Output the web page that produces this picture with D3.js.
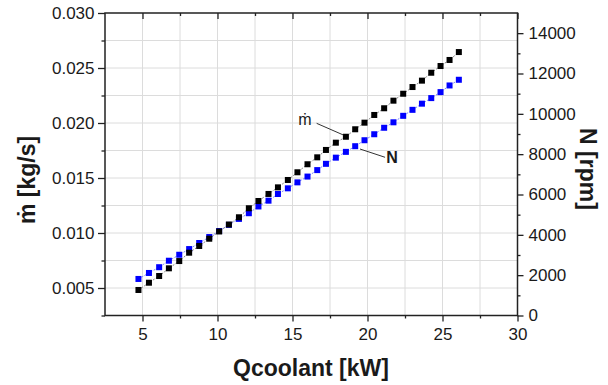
<!DOCTYPE html>
<html>
<head>
<meta charset="utf-8">
<script src="https://cdn.jsdelivr.net/npm/d3@7"></script>
<style>
  html, body { margin: 0; padding: 0; background: #fff; }
  svg { display: block; font-family: "Liberation Sans", Arial, sans-serif; }
</style>
</head>
<body>
<svg id="chart" width="608" height="385"></svg>
<script>
// Qcoolant [kW]
const qCoolant = [4.73, 5.43, 6.11, 6.76, 7.45, 8.11, 8.78, 9.45, 10.11, 10.76, 11.43, 12.09, 12.73, 13.40, 14.03, 14.69, 15.33,
  16.00, 16.65, 17.23, 17.89, 18.56, 19.18, 19.80, 20.45, 21.11, 21.73, 22.38, 23.00, 23.63, 24.25, 24.87, 25.47, 26.09];
// mass flow [kg/s], left axis
const massFlow = [0.00482, 0.00548, 0.00609, 0.00679, 0.00745, 0.00821, 0.00882, 0.00948, 0.01014, 0.01077, 0.01143, 0.01225,
  0.01291, 0.01355, 0.01415, 0.01482, 0.01552, 0.01625, 0.01688, 0.01755, 0.01821, 0.01875, 0.01943, 0.02003, 0.02073, 0.02134,
  0.02203, 0.02266, 0.02327, 0.02385, 0.02457, 0.02518, 0.02573, 0.02645];
// speed [rpm], right axis
const speed = [1812, 2109, 2395, 2716, 3012, 3294, 3595, 3891, 4188, 4494, 4790, 5072, 5407, 5694, 6025, 6306, 6602, 6889,
  7210, 7521, 7827, 8114, 8395, 8691, 8988, 9309, 9580, 9901, 10198, 10504, 10780, 11077, 11407, 11689];

const xTicks = [5, 10, 15, 20, 25, 30];
const xMinor = [7.5, 12.5, 17.5, 22.5, 27.5];
const leftTicks = [0.005, 0.010, 0.015, 0.020, 0.025, 0.030];
const leftMinor = [0.0025, 0.0075, 0.0125, 0.0175, 0.0225, 0.0275];
const rightTicks = [0, 2000, 4000, 6000, 8000, 10000, 12000, 14000];
const rightMinor = [1000, 3000, 5000, 7000, 9000, 11000, 13000];
const xGrid = [5, 7.5, 10, 12.5, 15, 17.5, 20, 22.5, 25, 27.5];
const yGrid = [0.005, 0.0075, 0.010, 0.0125, 0.015, 0.0175, 0.020, 0.0225, 0.025, 0.0275];

// labels pointing at each series (data units)
const mdotNote = { text: "ṁ", x: 15.83, y: 0.01982, from: [16.61, 0.01997], to: [18.39, 0.01891] };
const speedNote = { text: "N", x: 21.63, y: 7547, from: [21.17, 7845], to: [19.5, 8256] };

const svg = d3.select("#chart");
const pL = 105, pR = 517.5, pT = 13, pB = 315.5;

const x = d3.scaleLinear().domain([2.5, 30]).range([pL, pR]);
const yL = d3.scaleLinear().domain([0.0025, 0.030]).range([pB, pT]);
const yR = d3.scaleLinear().domain([0, 15000]).range([pB, pT]);

const axisColor = "#222";
const textColor = "#1a1a1a";

// grid
const grid = svg.append("g");
grid.selectAll(".gx").data(xGrid).enter().append("line")
  .attr("x1", d => x(d)).attr("x2", d => x(d))
  .attr("y1", pT).attr("y2", pB)
  .style("stroke", "#dcdcdc").style("stroke-width", 1);
grid.selectAll(".gy").data(yGrid).enter().append("line")
  .attr("x1", pL).attr("x2", pR)
  .attr("y1", d => yL(d)).attr("y2", d => yL(d))
  .style("stroke", "#dcdcdc").style("stroke-width", 1);

function styleAxis(g, fontSize) {
  g.select(".domain").remove();
  g.selectAll("line").style("stroke", axisColor).style("stroke-width", 1.3);
  g.selectAll("text").style("font-size", fontSize + "px").style("fill", textColor).attr("font-family", null);
}

// bottom axis
svg.append("g").attr("transform", `translate(0,${pB})`)
  .call(d3.axisBottom(x).tickValues(xTicks).tickFormat(d3.format("d")).tickSizeInner(6).tickSizeOuter(0).tickPadding(6.5))
  .call(g => styleAxis(g, 17));
svg.append("g").attr("transform", `translate(0,${pB})`)
  .call(d3.axisBottom(x).tickValues(xMinor).tickFormat("").tickSizeInner(3).tickSizeOuter(0))
  .call(g => styleAxis(g, 17));

// top border ticks (inward)
svg.append("g").attr("transform", `translate(0,${pT})`)
  .call(d3.axisBottom(x).tickValues(xTicks).tickFormat("").tickSizeInner(6).tickSizeOuter(0))
  .call(g => styleAxis(g, 17));
svg.append("g").attr("transform", `translate(0,${pT})`)
  .call(d3.axisBottom(x).tickValues(xMinor).tickFormat("").tickSizeInner(3).tickSizeOuter(0))
  .call(g => styleAxis(g, 17));

// left axis
svg.append("g").attr("transform", `translate(${pL},0)`)
  .call(d3.axisLeft(yL).tickValues(leftTicks).tickFormat(d3.format(".3f")).tickSizeInner(7).tickSizeOuter(0).tickPadding(3.5))
  .call(g => styleAxis(g, 17));
svg.append("g").attr("transform", `translate(${pL},0)`)
  .call(d3.axisLeft(yL).tickValues(leftMinor).tickFormat("").tickSizeInner(3.5).tickSizeOuter(0))
  .call(g => styleAxis(g, 17));

// right axis
svg.append("g").attr("transform", `translate(${pR},0)`)
  .call(d3.axisRight(yR).tickValues(rightTicks).tickFormat(d3.format("d")).tickSizeInner(6).tickSizeOuter(0).tickPadding(5))
  .call(g => styleAxis(g, 17));
svg.append("g").attr("transform", `translate(${pR},0)`)
  .call(d3.axisRight(yR).tickValues(rightMinor).tickFormat("").tickSizeInner(3).tickSizeOuter(0))
  .call(g => styleAxis(g, 17));

// frame
svg.append("rect")
  .attr("x", pL).attr("y", pT)
  .attr("width", pR - pL).attr("height", pB - pT)
  .style("fill", "none").style("stroke", axisColor).style("stroke-width", 1.5);

// series
const rows = qCoolant.map((q, i) => ({ q: q, m: massFlow[i], n: speed[i] }));
const sq = 6;

svg.append("path").datum(rows)
  .attr("d", d3.line().x(d => x(d.q)).y(d => yR(d.n)))
  .style("fill", "none").style("stroke", "#7a85ff").style("stroke-width", 1).style("stroke-dasharray", "2,1.5");
svg.append("path").datum(rows)
  .attr("d", d3.line().x(d => x(d.q)).y(d => yL(d.m)))
  .style("fill", "none").style("stroke", "#888").style("stroke-width", 1).style("stroke-dasharray", "2,1.5");

svg.selectAll(".n-pt").data(rows).enter().append("rect")
  .attr("class", "n-pt")
  .attr("x", d => x(d.q) - sq / 2).attr("y", d => yR(d.n) - sq / 2)
  .attr("width", sq).attr("height", sq)
  .style("fill", "#0000ff");

svg.selectAll(".m-pt").data(rows).enter().append("rect")
  .attr("class", "m-pt")
  .attr("x", d => x(d.q) - sq / 2).attr("y", d => yL(d.m) - sq / 2)
  .attr("width", sq).attr("height", sq)
  .style("fill", "#000");

// annotations
svg.append("line")
  .attr("x1", x(mdotNote.from[0])).attr("y1", yL(mdotNote.from[1]))
  .attr("x2", x(mdotNote.to[0])).attr("y2", yL(mdotNote.to[1]))
  .style("stroke", "#333").style("stroke-width", 1);
svg.append("text")
  .attr("x", x(mdotNote.x)).attr("y", yL(mdotNote.y))
  .attr("text-anchor", "middle")
  .style("font-size", "16px").style("fill", textColor)
  .text(mdotNote.text);

svg.append("line")
  .attr("x1", x(speedNote.from[0])).attr("y1", yR(speedNote.from[1]))
  .attr("x2", x(speedNote.to[0])).attr("y2", yR(speedNote.to[1]))
  .style("stroke", "#333").style("stroke-width", 1);
svg.append("text")
  .attr("x", x(speedNote.x)).attr("y", yR(speedNote.y))
  .attr("text-anchor", "middle")
  .style("font-size", "16px").style("font-weight", "bold").style("fill", textColor)
  .text(speedNote.text);

// axis titles
svg.append("text")
  .attr("x", 311).attr("y", 376)
  .attr("text-anchor", "middle")
  .style("font-size", "23px").style("font-weight", "bold").style("fill", textColor)
  .text("Qcoolant [kW]");

svg.append("text")
  .attr("transform", "translate(35,180) rotate(-90)")
  .attr("text-anchor", "middle")
  .style("font-size", "23px").style("font-weight", "bold").style("fill", textColor)
  .text("ṁ [kg/s]");

svg.append("text")
  .attr("transform", "translate(580,169) rotate(90)")
  .attr("text-anchor", "middle")
  .style("font-size", "23px").style("font-weight", "bold").style("fill", textColor)
  .text("N [rpm]");
</script>
</body>
</html>
